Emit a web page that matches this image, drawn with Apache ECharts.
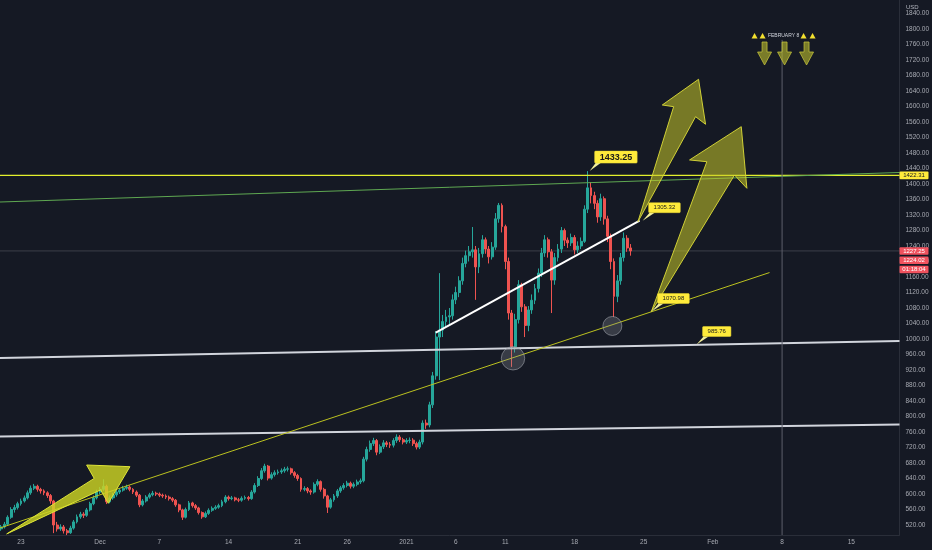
<!DOCTYPE html>
<html><head><meta charset="utf-8">
<script src="https://cdn.jsdelivr.net/npm/echarts@6/dist/echarts.min.js"></script>
<style>html,body{margin:0;padding:0;background:#151924;}#c{width:932px;height:550px;}</style>
</head><body><div id="c"></div>
<script>
// ---------- data ----------
const candleStart = '2020-11-21';   // first 8h candle
const candleHours = 8;
const firstOpen = 510;
const closes = [
515,522,540,560,565,575,582,590,603,615,
620,612,608,603,596,582,520,510,515,505,
500,512,528,541,548,545,559,575,590,605,
612,620,580,590,598,605,610,615,618,612,
605,597,572,582,592,598,602,600,597,595,
592,588,584,572,559,540,560,577,570,564,
552,541,550,558,563,566,570,580,592,588,
590,585,584,589,591,588,605,622,640,660,
672,641,650,655,657,660,664,665,655,648,
640,612,614,608,605,625,632,612,595,566,
585,595,608,616,622,628,620,625,631,634,
690,715,730,738,708,722,732,728,726,738,
747,740,734,738,739,730,721,734,783,778,
830,905,1005,1023,1045,1057,1060,1101,1120,1150,
1195,1215,1225,1230,1186,1220,1256,1232,1212,1237,
1310,1345,1290,1200,1067,980,1050,1140,1083,1035,
1075,1100,1130,1170,1222,1256,1225,1152,1210,1232,
1280,1255,1248,1262,1230,1240,1252,1335,1390,1370,
1350,1315,1362,1310,1265,1200,1110,1150,1210,1260,
1235,1227.25];
const highs = [
520,528,545,566,572,580,588,596,609,622,
626,624,616,612,607,600,585,528,522,520,
510,518,533,547,554,553,564,580,596,611,
618,638,624,596,603,610,615,621,624,622,
615,609,600,587,597,603,608,606,604,601,
599,596,592,587,575,562,565,582,580,574,
567,555,555,563,568,571,575,585,597,596,
595,593,590,594,596,595,610,628,646,667,
678,675,656,661,663,666,670,671,668,659,
652,643,620,618,612,630,638,635,616,598,
590,600,613,621,628,634,632,630,637,640,
696,722,738,745,742,728,739,737,734,744,
754,752,745,744,746,744,735,740,790,792,
838,915,1020,1170,1062,1075,1080,1115,1135,1162,
1210,1228,1240,1289,1240,1235,1268,1262,1240,1250,
1325,1351,1350,1295,1210,1075,1065,1152,1145,1090,
1085,1115,1142,1182,1235,1268,1262,1232,1222,1245,
1289,1285,1262,1272,1268,1252,1262,1345,1433.25,1405,
1380,1358,1375,1368,1318,1272,1208,1165,1222,1275,
1268,1245];
const lows = [
505,511,518,536,552,560,570,578,586,598,
610,606,601,597,590,575,499,503,505,498,
494,497,508,524,536,538,541,555,571,586,
600,608,574,576,585,593,600,606,611,607,
600,592,566,568,578,588,594,595,592,590,
587,583,579,567,553,533,537,556,565,559,
547,536,538,546,554,559,562,566,576,583,
584,581,579,580,585,583,585,601,618,636,
655,635,637,645,650,652,655,658,650,642,
634,606,607,602,598,601,620,606,588,551,
562,580,590,603,611,617,614,615,620,626,
630,684,709,724,700,703,716,721,719,720,
732,734,728,729,731,724,715,716,728,768,
772,822,895,894,1005,1030,1035,1050,1090,1108,
1140,1185,1200,1210,1101,1170,1210,1220,1195,1205,
1230,1300,1275,1180,1050,928,965,1040,1070,1005,
1020,1065,1090,1120,1160,1212,1210,1067,1140,1200,
1222,1240,1235,1240,1218,1222,1232,1248,1325,1350,
1335,1300,1305,1295,1250,1180,1057,1095,1140,1200,
1225,1215];

const tickDates  = ['2020-11-23','2020-12-01','2020-12-07','2020-12-14','2020-12-21','2020-12-26','2021-01-01','2021-01-06','2021-01-11','2021-01-18','2021-01-25','2021-02-01','2021-02-08','2021-02-15'];
const tickLabels = ['23','Dec','7','14','21','26','2021','6','11','18','25','Feb','8','15'];
const priceTicks = [520,560,600,640,680,720,760,800,840,880,920,960,1000,1040,1080,1120,1160,1200,1240,1280,1320,1360,1400,1440,1480,1520,1560,1600,1640,1680,1720,1760,1800,1840];

const resistanceLevel = 1422.31;
const lastPrice = 1227.25;
const priceTags = [
  {value:1422.31, text:'1422.31', kind:'level'},
  {value:1227.25, text:'1227.25', kind:'red'},
  {value:1224.02, text:'1224.02', kind:'red'},
  {value:1224.02, text:'01:18:04', kind:'red'}
];
// drawings: [day offset from 2020-11-23, price]
const resistLine  = [[-2.123,resistanceLevel],[88.88,resistanceLevel]];
const lastLine    = [[-2.123,lastPrice],[88.88,lastPrice]];
const greenLine   = [[-2.123,1353.5],[88.88,1429.7]];
const upperWhite  = [[-2.123,951.0],[88.88,994.8]];
const lowerWhite  = [[-2.123,748.4],[88.88,779.4]];
const yellowTrend = [[-2.123,512.3],[75.73,1171.4]];
const channelLine = [[41.96,1016.3],[62.59,1305.32]];
const feb8Line    = [[77,1772],[77,494]];
const arrowA = [[-1.446,497],[7.41,640.3],[6.64,674.8],[11.02,670.5],[8.83,576],[8.06,610.6]];
const arrowB = [[62.42,1302.7],[66.03,1599.5],[64.88,1603.9],[68.55,1670.2],[69.26,1554.1],[68.25,1573.7]];
const arrowC = [[63.77,1070.5],[69.39,1457.5],[67.64,1462],[72.87,1547.9],[73.44,1388.9],[72.19,1423.2]];
const circles = [[49.78,950.2,11.7],[59.83,1033.6,9.5]];
const callouts = [
  {d:57.53, v:1433.25, text:'1433.25', big:true},
  {d:62.89, v:1305.32, text:'1305.32'},
  {d:63.80, v:1070.98, text:'1070.98'},
  {d:68.35, v:985.76,  text:'985.76'}
];
const feb8Note = {d:77.15, v:1781.9, text:'FEBRUARY 8'};

// ---------- helpers ----------
const DAY = 86400000;
const ORIGIN = Date.UTC(2020,10,23);
const day = d => ORIGIN + d*DAY;
const ts = s => { const p = s.split('-').map(Number); return Date.UTC(p[0],p[1]-1,p[2]); };
const FONT = "'Liberation Sans', Arial, sans-serif";
const t0 = ts(candleStart);
const candles = closes.map((c,i)=>[t0 + i*candleHours*3600000, i===0?firstOpen:closes[i-1], c, lows[i], highs[i]]);
const tickTimes = tickDates.map(ts);
const labelMap = {}; tickTimes.forEach((t,i)=>labelMap[t]=tickLabels[i]);
const toXY = arr => arr.map(p=>[day(p[0]), p[1]]);
const textW = (s, fs) => { let w=0; for (const ch of s) w += (ch==='.'||ch===':')?0.278:0.556; return w*fs; };

function lineSeries(pts, color, width, type, z){
  return {type:'line', data:toXY(pts), symbol:'none', silent:true, animation:false, z:z||3,
    lineStyle:{color, width, type:type||'solid'}};
}
function arrowSeries(list, fill, stroke){
  return {type:'custom', silent:true, z:5, animation:false,
    data:list.map(a=>[day(a[0][0]), a[0][1]]), encode:{x:0,y:1},
    renderItem(params, api){
      const a = list[params.dataIndex];
      return {type:'polygon', shape:{points:a.map(p=>api.coord([day(p[0]),p[1]]))},
        style:{fill, stroke, lineWidth:1}};
    }};
}

const chart = echarts.init(document.getElementById('c'));
chart.setOption({
  backgroundColor:'#151924',
  animation:false,
  grid:{left:0, right:32, top:0, bottom:15, containLabel:false},
  xAxis:{type:'value', min:day(-2.123), max:day(88.88),
    axisLine:{show:true, lineStyle:{color:'#2a2e39'}}, axisTick:{show:false}, splitLine:{show:false},
    axisLabel:{customValues:tickTimes, formatter:(v)=>labelMap[v]||'', color:'#a7aab2', fontSize:6.5, fontFamily:FONT, margin:4}},
  yAxis:{type:'value', position:'right', min:494.2, max:1874.8, scale:true,
    axisLine:{show:true, lineStyle:{color:'#2a2e39'}}, axisTick:{show:false}, splitLine:{show:false},
    axisLabel:{customValues:priceTicks, formatter:v=>Number(v).toFixed(2), color:'#a7aab2', fontSize:6.5, fontFamily:FONT, margin:6}},
  graphic:[{type:'text', left:906, top:4, style:{text:'USD', fill:'#b2b5be', font:'6px '+FONT}, z:100}],
  series:[
    lineSeries(lastLine, 'rgba(150,153,160,0.3)', 1, 'solid', 1),
    {type:'candlestick', data:candles, barWidth:2.4, z:2, silent:true,
      itemStyle:{color:'#26a69a', color0:'#ef5350', borderColor:'#26a69a', borderColor0:'#ef5350', borderWidth:1}},
    lineSeries(resistLine, '#e3ef2c', 1.3),
    lineSeries(greenLine, '#5fa852', 1),
    lineSeries(upperWhite, '#d1d4dc', 2),
    lineSeries(lowerWhite, '#d1d4dc', 2),
    lineSeries(yellowTrend, '#bcc220', 1),
    lineSeries(channelLine, '#ffffff', 2),
    lineSeries(feb8Line, '#5d606b', 1),
    arrowSeries([arrowA], 'rgba(205,212,35,0.82)', 'rgba(222,228,55,1)'),
    arrowSeries([arrowB, arrowC], 'rgba(200,200,40,0.55)', 'rgba(215,215,55,0.95)'),
    {type:'custom', silent:true, z:4, data:circles.map(c=>[day(c[0]),c[1]]), encode:{x:0,y:1},
      renderItem(params, api){
        const c = circles[params.dataIndex]; const p = api.coord([day(c[0]),c[1]]);
        return {type:'circle', shape:{cx:p[0], cy:p[1], r:c[2]},
          style:{fill:'rgba(140,143,150,0.3)', stroke:'rgba(170,173,180,0.55)', lineWidth:1}};
      }},
    {type:'custom', silent:true, z:8, data:callouts.map(c=>[day(c.d),c.v]), encode:{x:0,y:1},
      renderItem(params, api){
        const c = callouts[params.dataIndex]; const p = api.coord([day(c.d),c.v]);
        const fs = c.big?9:6; const w = textW(c.text, fs) + 10; const h = c.big?12:10;
        const bx = p[0] + (c.big?5:6), by = p[1] - 8;
        return {type:'group', children:[
          {type:'polygon', shape:{points:[[p[0],p[1]],[bx+1,by],[bx+6,by]]}, style:{fill:'#f2ee9a'}},
          {type:'rect', shape:{x:bx, y:by-h, width:w, height:h, r:1}, style:{fill:'#ffeb3b', stroke:'#e6d430', lineWidth:0.5}},
          {type:'text', style:{x:bx+w/2, y:by-h/2, text:c.text, fill:'#1a1a1a', font:(c.big?'600 ':'')+fs+'px '+FONT, align:'center', verticalAlign:'middle'}}
        ]};
      }},
    {type:'custom', silent:true, z:8, data:[[day(feb8Note.d), feb8Note.v]], encode:{x:0,y:1},
      renderItem(params, api){
        const p = api.coord([day(feb8Note.d), feb8Note.v]); const cx = p[0], cy = p[1];
        const kids = [{type:'text', style:{x:cx, y:cy, text:feb8Note.text, fill:'#d1d4dc', font:'5px '+FONT, align:'center', verticalAlign:'middle'}}];
        [-29,-21,20,29].forEach(dx=>{
          kids.push({type:'polygon', shape:{points:[[cx+dx,cy-3],[cx+dx-3,cy+2.5],[cx+dx+3,cy+2.5]]}, style:{fill:'#f2e02e'}});
        });
        [-19,1,23].forEach(dx=>{
          const x=cx+dx;
          kids.push({type:'polygon', shape:{points:[[x-2.5,cy+6],[x+2.5,cy+6],[x+2.5,cy+16],[x+7,cy+16],[x,cy+29],[x-7,cy+16],[x-2.5,cy+16]]},
            style:{fill:'rgba(190,190,45,0.6)', stroke:'rgba(200,200,60,0.9)', lineWidth:0.8}});
        });
        return {type:'group', children:kids};
      }},
    {type:'custom', silent:true, z:9, clip:false, data:[[day(0), priceTags[0].value]], encode:{x:0,y:1},
      renderItem(params, api){
        const cs = params.coordSys; const x0 = cs.x + cs.width; const h = 7.6; const kids = [];
        let prev = -1e9;
        priceTags.forEach(tg=>{
          let y = api.coord([day(0), tg.value])[1];
          if (y < prev + 9.3) y = prev + 9.3;
          prev = y;
          const bg = tg.kind==='level' ? '#ffeb3b' : '#f0525e';
          const fg = tg.kind==='level' ? '#131722' : '#ffffff';
          kids.push({type:'rect', shape:{x:x0, y:y-h/2, width:29, height:h, r:1}, style:{fill:bg}});
          kids.push({type:'text', style:{x:x0+14.5, y:y, text:tg.text, fill:fg, font:'6px '+FONT, align:'center', verticalAlign:'middle'}});
        });
        return {type:'group', children:kids};
      }}
  ]
});
</script></body></html>
